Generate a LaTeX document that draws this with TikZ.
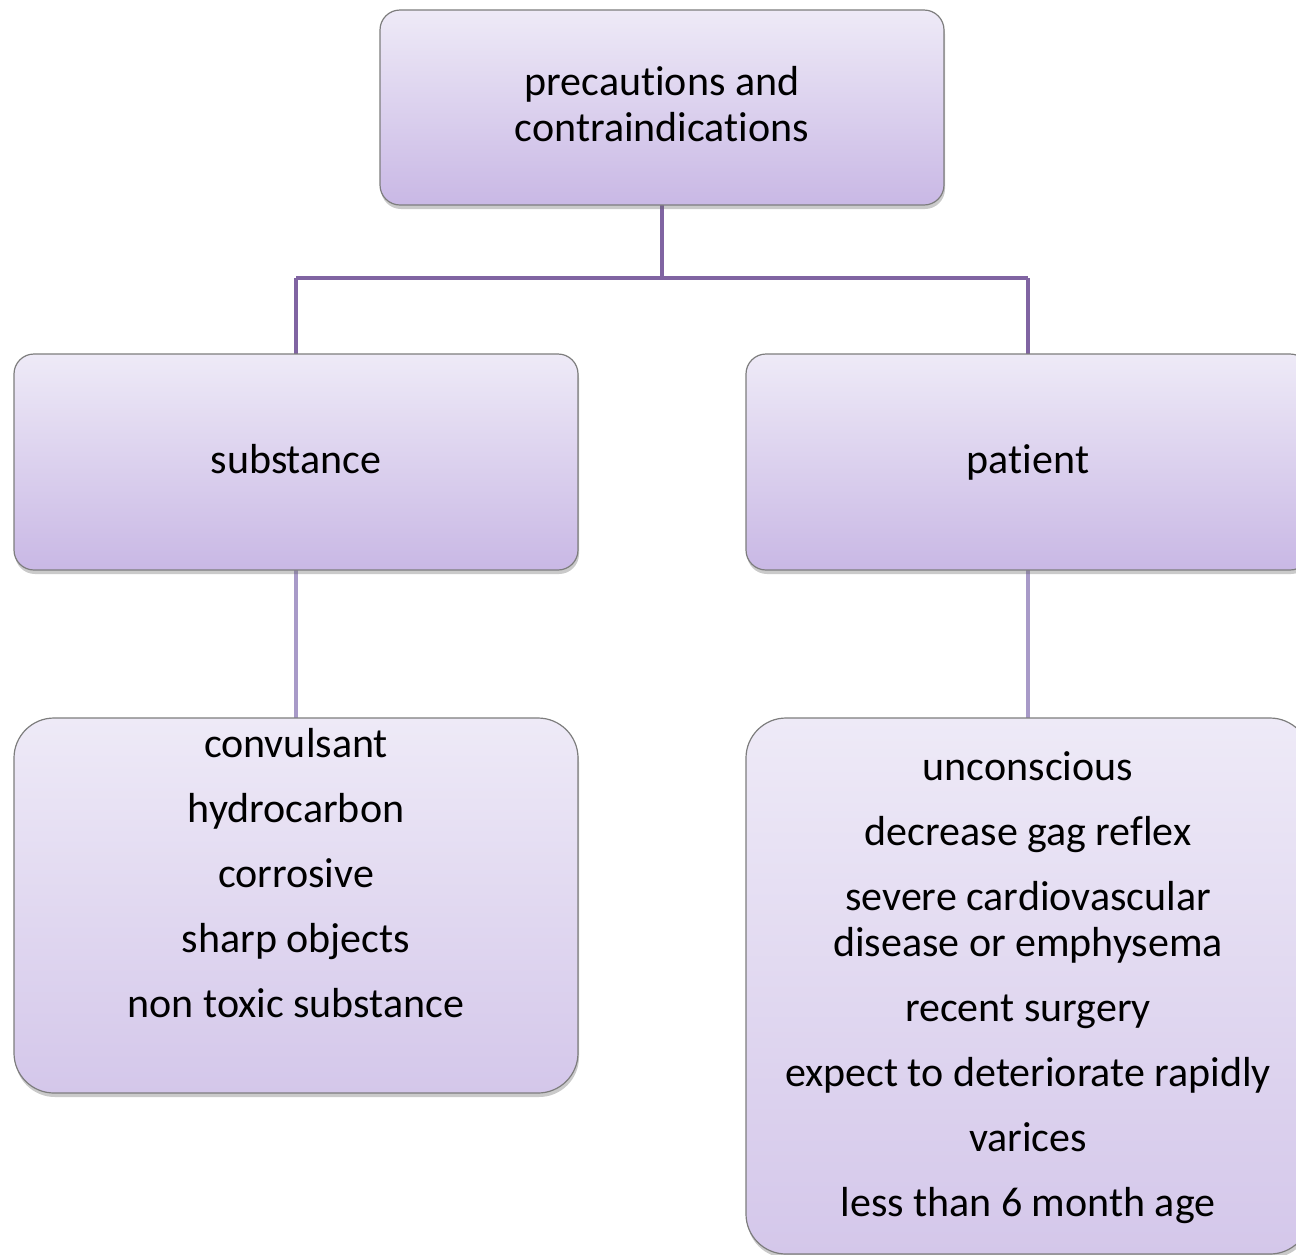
\documentclass[tikz,border=0pt]{standalone}
\usepackage{fontspec}
\setmainfont{Carlito}[Ligatures={NoCommon,NoContextual,NoRare}]
\usetikzlibrary{shadows}
\newcommand{\nolig}{\kern0pt }
\definecolor{boxtop}{RGB}{238,234,247}
\definecolor{boxbot}{RGB}{201,184,229}
\definecolor{boxbotl}{RGB}{212,199,234}
\definecolor{boxedge}{RGB}{125,125,125}
\definecolor{conndark}{RGB}{128,100,162}
\definecolor{connlight}{RGB}{168,154,200}
\tikzset{
  box/.style={draw=boxedge, line width=1.2pt, top color=boxtop, bottom color=boxbot,
    rounded corners=#1, inner sep=0pt,
    drop shadow={shadow xshift=1pt, shadow yshift=-4pt, opacity=0.35, fill=black!60}},
  label text/.style={align=center, font=\fontsize{42}{46}\selectfont, inner sep=0pt},
  conn/.style={line width=4pt, color=conndark},
  connb/.style={line width=4pt, color=connlight}
}
\begin{document}
\begin{tikzpicture}[x=1pt,y=-1pt]
\useasboundingbox (0,0) rectangle (1296,1254);
\clip (0,0) rectangle (1296,1254);
% junction
\coordinate (j) at (662,278);
\coordinate (topb) at (662,205);
\coordinate (jl) at (296,278);
\coordinate (jr) at (1028,278);
% connectors (behind boxes)
\draw[conn] (topb) -- (j);
\draw[conn] (jl) -- (jr);
\draw[conn] (jl) -- (296,354);
\draw[conn] (jr) -- (1028,354);
\draw[connb] (296,570) -- (296,718);
\draw[connb] (1028,570) -- (1028,718);
% boxes
\node[box=20pt, minimum width=564pt, minimum height=195pt] (top) at (662,107.5) {};
\node[box=20pt, minimum width=564pt, minimum height=216pt] (sub) at (296,462) {};
\node[box=20pt, minimum width=564pt, minimum height=216pt] (pat) at (1028,462) {};
\node[box=40pt, bottom color=boxbotl, minimum width=564pt, minimum height=375pt] (subl) at (296,905.5) {};
\node[box=40pt, bottom color=boxbotl, minimum width=564pt, minimum height=536pt] (patl) at (1028,986) {};
% texts
\node[label text] (toptxt) at (662,104) {precaut\nolig ions and\\contraindicat\nolig ions};
\node[label text, anchor=base] (subtxt) at (296,473) {substance};
\node[label text, anchor=base] (pattxt) at (1028,473) {pat\nolig ient};
\node[label text] (subltxt) at (296,873) {convulsant\\[19pt]hydrocarbon\\[19pt]corrosive\\[19pt]sharp objects\\[19pt]non toxic substance};
\node[label text] (patltxt) at (1028,988) {unconscious\\[19pt]decrease gag ref\nolig lex\\[19pt]severe cardiovascular\\disease or emphysema\\[19pt]recent surgery\\[19pt]expect to deteriorate rapidly\\[19pt]varices\\[19pt]less than 6 month age};
\end{tikzpicture}
\end{document}
